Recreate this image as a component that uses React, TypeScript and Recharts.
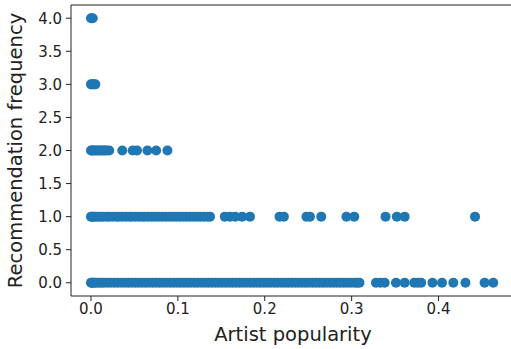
import React from "react"
import {
  ScatterChart,
  Scatter,
  XAxis,
  YAxis,
  Label,
  ReferenceLine,
} from "recharts"

// artist popularity values, grouped by recommendation frequency
const popularityFreq4 = [0.0, 0.002]
const popularityFreq3 = [0.0, 0.002, 0.003, 0.005]
const popularityFreq2 = [
  0.0, 0.001, 0.002, 0.004, 0.006, 0.008, 0.01, 0.012, 0.014, 0.016, 0.018, 0.021,
  0.036, 0.048, 0.053, 0.065, 0.075, 0.088,
]
const popularityFreq1 = [
  0.0, 0.001, 0.003, 0.005, 0.008, 0.011, 0.014, 0.018, 0.021, 0.025, 0.029, 0.032,
  0.036, 0.04, 0.044, 0.047, 0.051, 0.055, 0.059, 0.062, 0.066, 0.07, 0.074, 0.078,
  0.082, 0.086, 0.09, 0.094, 0.098, 0.102, 0.106, 0.11, 0.114, 0.118, 0.122, 0.126,
  0.13, 0.134, 0.137, 0.154, 0.16, 0.166, 0.174, 0.183, 0.217, 0.222, 0.248, 0.252,
  0.265, 0.294, 0.303, 0.339, 0.352, 0.361, 0.442,
]
const popularityFreq0 = [
  0.0, 0.001, 0.002, 0.004, 0.006, 0.009, 0.012, 0.015, 0.019, 0.023, 0.027, 0.031,
  0.035, 0.039, 0.043, 0.047, 0.051, 0.055, 0.059, 0.063, 0.067, 0.071, 0.075, 0.079,
  0.083, 0.087, 0.091, 0.095, 0.099, 0.103, 0.107, 0.111, 0.115, 0.119, 0.123, 0.127,
  0.131, 0.135, 0.139, 0.143, 0.147, 0.151, 0.155, 0.159, 0.163, 0.167, 0.171, 0.175,
  0.179, 0.183, 0.187, 0.191, 0.195, 0.199, 0.203, 0.207, 0.211, 0.215, 0.219, 0.223,
  0.227, 0.231, 0.235, 0.239, 0.243, 0.247, 0.251, 0.255, 0.259, 0.263, 0.267, 0.271,
  0.275, 0.279, 0.283, 0.287, 0.291, 0.295, 0.299, 0.303, 0.306, 0.309,
  0.328, 0.333, 0.338, 0.351, 0.361, 0.372, 0.376, 0.38, 0.393, 0.404, 0.417, 0.431,
  0.453, 0.463,
]
const frequencies = [0, 1, 2, 3, 4]
const xTicks = [0, 0.1, 0.2, 0.3, 0.4]
const yTicks = [0, 0.5, 1, 1.5, 2, 2.5, 3, 3.5, 4]
const xDomain = [-0.023, 0.488]
const yDomain = [-0.2, 4.2]

const groups = [popularityFreq0, popularityFreq1, popularityFreq2, popularityFreq3, popularityFreq4]
const points = groups.flatMap((xs, i) => xs.map(x => ({ x, y: frequencies[i] })))

const BLUE = "#1f77b4"
const FONT = "DejaVu Sans"
const tickStyle = { fill: "#222", fontSize: 15, fontFamily: FONT }

const Dot = (props: any) => <circle cx={props.cx} cy={props.cy} r={5} fill={BLUE} />

export default function App() {
  return (
    <div style={{ position: "absolute", left: 0, top: 0, width: 511, height: 349, overflow: "hidden", background: "#fff" }}>
      <ScatterChart width={520} height={349} margin={{ top: 5, right: 5, left: 0, bottom: 0 }}>
        <XAxis
          xAxisId="bottom"
          type="number"
          dataKey="x"
          domain={xDomain}
          ticks={xTicks}
          tickFormatter={(v: number) => v.toFixed(1)}
          tick={tickStyle}
          tickSize={5}
          tickMargin={2}
          height={53}
          stroke="#222"
          allowDataOverflow
        >
          <Label
            value="Artist popularity"
            position="insideBottom"
            offset={8}
            style={{ fill: "#222", fontSize: 19.5, fontFamily: FONT, textAnchor: "middle" }}
          />
        </XAxis>
        <YAxis
          yAxisId="left"
          type="number"
          dataKey="y"
          domain={yDomain}
          ticks={yTicks}
          tickFormatter={(v: number) => v.toFixed(1)}
          tick={tickStyle}
          tickSize={5}
          tickMargin={4}
          width={71}
          stroke="#222"
          allowDataOverflow
        >
          <Label
            value="Recommendation frequency"
            angle={-90}
            position="insideLeft"
            offset={15}
            style={{ fill: "#222", fontSize: 19.5, fontFamily: FONT, textAnchor: "middle" }}
          />
        </YAxis>
        {/* top and right spines */}
        <ReferenceLine xAxisId="bottom" yAxisId="left" y={yDomain[1]} stroke="#222" />
        <ReferenceLine xAxisId="bottom" yAxisId="left" x={xDomain[1]} stroke="#222" />
        <Scatter
          data={points}
          xAxisId="bottom"
          yAxisId="left"
          fill={BLUE}
          shape={Dot}
          isAnimationActive={false}
        />
      </ScatterChart>
    </div>
  )
}
